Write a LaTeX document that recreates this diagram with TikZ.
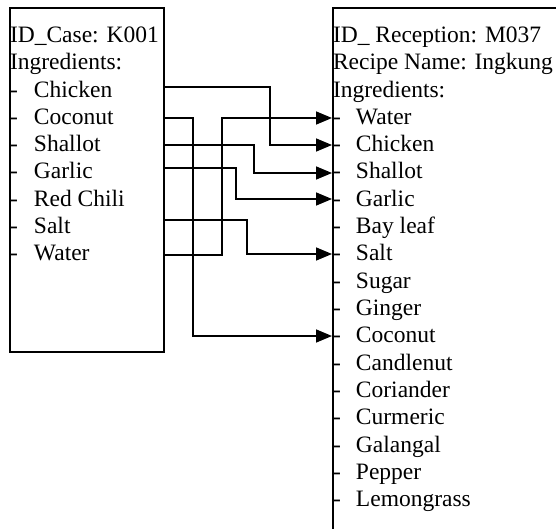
\documentclass[tikz,border=0pt]{standalone}
\usepackage{fontspec}
\setmainfont{Liberation Serif}
\usetikzlibrary{arrows.meta}
\begin{document}
\begin{tikzpicture}[x=1pt,y=-1pt,
  txt/.style={anchor=base west,inner sep=0pt,outer sep=0pt,font=\fontsize{23.5}{27.3}\selectfont},
  boxstyle/.style={draw,line width=1.8pt,anchor=north west,inner sep=0pt},
  conn/.style={line width=1.6pt,-{Triangle[length=16pt,width=13pt]}}]
\useasboundingbox (0,0) rectangle (556,529);
\clip (0,0) rectangle (556,529);
\fill[white] (0,0) rectangle (556,529);
% boxes
\node[boxstyle,minimum width=154pt,minimum height=344pt] (leftbox) at (9,7) {};
\node[boxstyle,minimum width=280pt,minimum height=600pt] (rightbox) at (332,7) {};
% left texts
\newcommand{\lit}[1]{\makebox[24pt][l]{-}#1}
\newcommand{\rit}[1]{\makebox[23pt][l]{-}#1}
\node[txt] (L0) at (10,42.5) {ID\_Case: K001};
\node[txt] (L1) at (10,69.8) {Ingredients:};
\node[txt] (L2) at (10,97.1) {\lit{Chicken}};
\node[txt] (L3) at (10,124.4) {\lit{Coconut}};
\node[txt] (L4) at (10,151.7) {\lit{Shallot}};
\node[txt] (L5) at (10,179.0) {\lit{Garlic}};
\node[txt] (L6) at (10,206.3) {\lit{Red Chili}};
\node[txt] (L7) at (10,233.6) {\lit{Salt}};
\node[txt] (L8) at (10,260.9) {\lit{Water}};
% right texts
\node[txt] (R0) at (333,42.5) {ID\_ Reception: M037};
\node[txt] (R1) at (333,69.8) {Recipe Name: Ingkung};
\node[txt] (R2) at (333,97.1) {Ingredients:};
\node[txt] (R3) at (333,124.4) {\rit{Water}};
\node[txt] (R4) at (333,151.7) {\rit{Chicken}};
\node[txt] (R5) at (333,179.0) {\rit{Shallot}};
\node[txt] (R6) at (333,206.3) {\rit{Garlic}};
\node[txt] (R7) at (333,233.6) {\rit{Bay leaf}};
\node[txt] (R8) at (333,260.9) {\rit{Salt}};
\node[txt] (R9) at (333,288.2) {\rit{Sugar}};
\node[txt] (R10) at (333,315.5) {\rit{Ginger}};
\node[txt] (R11) at (333,342.8) {\rit{Coconut}};
\node[txt] (R12) at (333,370.1) {\rit{Candlenut}};
\node[txt] (R13) at (333,397.4) {\rit{Coriander}};
\node[txt] (R14) at (333,424.7) {\rit{Curmeric}};
\node[txt] (R15) at (333,452.0) {\rit{Galangal}};
\node[txt] (R16) at (333,479.3) {\rit{Pepper}};
\node[txt] (R17) at (333,506.6) {\rit{Lemongrass}};
% connector ends
\coordinate (sChicken) at (163,87);
\coordinate (sCoconut) at (163,118);
\coordinate (sShallot) at (163,145);
\coordinate (sGarlic) at (163,168);
\coordinate (sSalt) at (163,220);
\coordinate (sWater) at (163,255);
\coordinate (tWater) at (332,118);
\coordinate (tChicken) at (332,145);
\coordinate (tShallot) at (332,173);
\coordinate (tGarlic) at (332,199);
\coordinate (tSalt) at (332,254);
\coordinate (tCoconut) at (332,336);
% connectors
\draw[conn] (sChicken) -- ++(107,0) |- (tChicken);
\draw[conn] (sCoconut) -- ++(30,0) |- (tCoconut);
\draw[conn] (sShallot) -- ++(91,0) |- (tShallot);
\draw[conn] (sGarlic) -- ++(73,0) |- (tGarlic);
\draw[conn] (sSalt) -- ++(84,0) |- (tSalt);
\draw[conn] (sWater) -- ++(59,0) |- (tWater);
\end{tikzpicture}
\end{document}
